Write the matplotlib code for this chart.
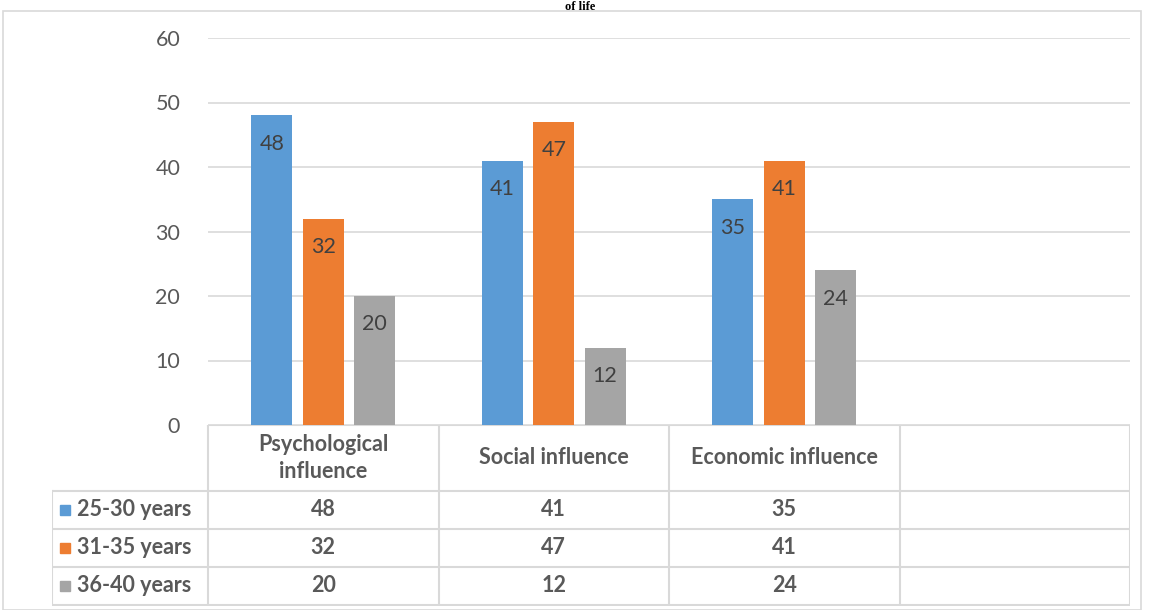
import matplotlib.pyplot as plt
from matplotlib.patches import Rectangle

categories = ["Psychological\ninfluence", "Social influence", "Economic influence", ""]
series_names = ["25-30 years", "31-35 years", "36-40 years"]
values_25_30 = [48, 41, 35]
values_31_35 = [32, 47, 41]
values_36_40 = [20, 12, 24]
series_values = [values_25_30, values_31_35, values_36_40]
colors = ["#5B9BD5", "#ED7D31", "#A5A5A5"]
yticks = [0, 10, 20, 30, 40, 50, 60]

W, H = 1151, 610
plt.rcParams['font.family'] = ['Lato', 'DejaVu Sans']
fig = plt.figure(figsize=(W / 100, H / 100), dpi=100)

def px(x0, y0, x1, y1):
    # pixel box (top-left origin) -> figure fraction rect
    return [x0 / W, 1 - y1 / H, (x1 - x0) / W, (y1 - y0) / H]

# outer chart frame
fig.patches.append(Rectangle((3 / W, 0), 1138 / W, 1 - 11 / H, transform=fig.transFigure,
                             fill=False, edgecolor="#d9d9d9", lw=1.2))
# title tail from the page above (cut in the source)
fig.text(580 / W, 1 - 1 / H, "of life", ha='center', va='top', fontsize=9,
         fontweight='bold', family='Liberation Serif')

ax = fig.add_axes(px(208, 38, 1130, 425))
n_cat = len(categories)
bar_w = 0.178
offs = [-0.223, 0, 0.223]
for s in range(3):
    xs = [i + offs[s] for i in range(len(series_values[s]))]
    bars = ax.bar(xs, series_values[s], width=bar_w, color=colors[s], zorder=3)
    for b, v in zip(bars, series_values[s]):
        ax.text(b.get_x() + b.get_width() / 2, v - 4.4, str(v), ha='center', va='center',
                fontsize=15.5, color="#404040", zorder=4)
ax.set_xlim(-0.5, n_cat - 0.5)
ax.set_ylim(0, 60)
ax.set_yticks(yticks)
ax.set_yticklabels([str(t) for t in yticks], fontsize=15.5, color="#595959")
ax.tick_params(axis='y', length=0, pad=20)
ax.set_xticks([])
ax.grid(axis='y', color="#d9d9d9", lw=1.2, zorder=0)
for sp in ax.spines.values():
    sp.set_visible(False)

# data table beneath the plot
tab_left = 52
col_w = (1130 - 208) / n_cat
tx = fig.add_axes(px(tab_left, 425, 1130, 606))
tx.set_xlim(tab_left, 1130)
tx.set_ylim(606, 425)
tx.axis('off')
line_c = "#d9d9d9"
rows_y = [425, 491, 529, 567, 605]
tx.plot([208, 1130], [425, 425], color=line_c, lw=1.5)
for y in rows_y[1:]:
    tx.plot([tab_left, 1130], [y, y], color=line_c, lw=1.5)
tx.plot([tab_left, tab_left], [491, 605], color=line_c, lw=1.5)
for i in range(n_cat + 1):
    x = 208 + i * col_w
    tx.plot([x, x], [425, 605], color=line_c, lw=1.5)

for i, c in enumerate(categories):
    tx.text(208 + (i + 0.5) * col_w, 458, c, ha='center', va='center', fontsize=15.5,
            fontweight='bold', color="#595959", linespacing=1.3)
for s in range(3):
    yc = (rows_y[s + 1] + rows_y[s + 2]) / 2
    tx.add_patch(Rectangle((60, yc - 5), 10, 10, color=colors[s]))
    tx.text(77, yc, series_names[s], ha='left', va='center', fontsize=15.5,
            fontweight='bold', color="#595959")
    for i, v in enumerate(series_values[s]):
        tx.text(208 + (i + 0.5) * col_w, yc, str(v), ha='center', va='center',
                fontsize=15.5, fontweight='bold', color="#595959")

fig.savefig("out.png", dpi=100)
